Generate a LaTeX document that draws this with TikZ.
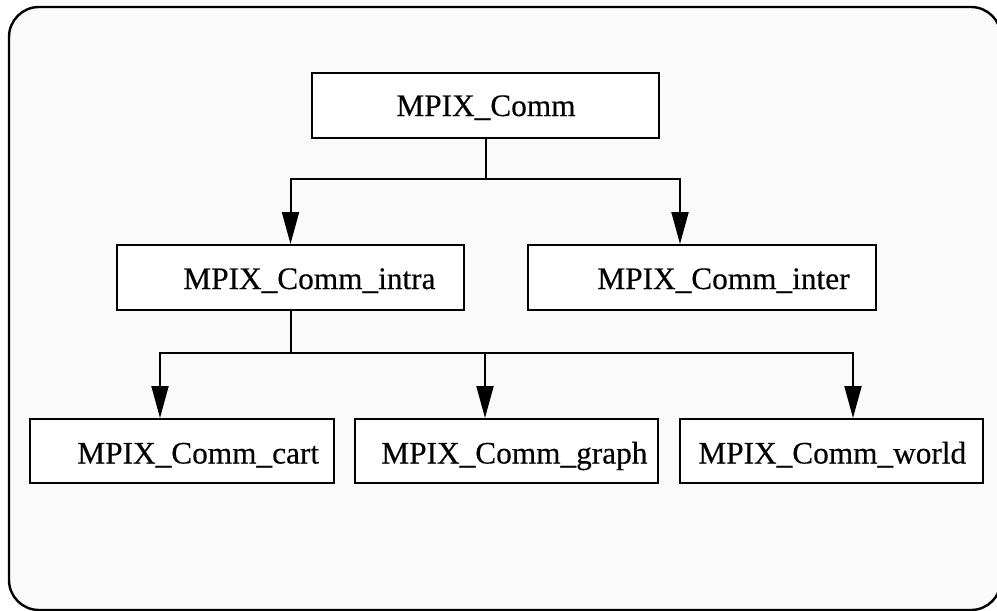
\documentclass[tikz,border=0pt]{standalone}
\usepackage{fontspec}
\setmainfont[FakeBold=0.35]{Liberation Serif}
\usetikzlibrary{arrows.meta,calc}
\begin{document}
\begin{tikzpicture}[x=0.5pt,y=-0.5pt,
  box/.style={draw=black,line width=1pt,fill=white,inner sep=0pt,minimum height=32.5pt},
  lbl/.style={inner sep=0pt,font=\fontsize{15.65pt}{18pt}\selectfont},
  wire/.style={line width=1pt},
  arrow/.style={wire,-{Triangle[length=16pt,width=8.5pt]}}]
\useasboundingbox (0,0) rectangle (997,611);
% outer panel
\draw[line width=1.2pt,fill=white!98!black,rounded corners=15pt] (9,7) rectangle (1001,610);

% class boxes
\node[box,minimum width=173.5pt] (top)   at (485.5,105.5) {};
\node[box,minimum width=173.5pt] (intra) at (290.5,277.5) {};
\node[box,minimum width=174pt]   (inter) at (702,277.5) {};
\node[box,minimum width=152pt,minimum height=32pt]   (cart)  at (182,451) {};
\node[box,minimum width=151.5pt,minimum height=32pt] (graph) at (506.5,451) {};
\node[box,minimum width=151.5pt,minimum height=32pt] (world) at (831.5,451) {};

% class names
\node[lbl,anchor=base]      (ttop)   at (486,116)   {MPIX\_Comm};
\node[lbl,anchor=base west] (tintra) at (183,289)   {MPIX\_Comm\_intra};
\node[lbl,anchor=base west] (tinter) at (597,289)   {MPIX\_Comm\_inter};
\node[lbl,anchor=base west] (tcart)  at (77,463.5)  {MPIX\_Comm\_cart};
\node[lbl,anchor=base west] (tgraph) at (381,463.5) {MPIX\_Comm\_graph};
\node[lbl,anchor=base west] (tworld) at (698,463.5) {MPIX\_Comm\_world};

% inheritance connectors
\coordinate (j1) at (485.5,179);
\draw[wire] (top.south) -- (j1);
\draw[arrow] (j1) -| (intra.north);
\draw[arrow] (j1) -| ($(inter.north)+(-22,0)$);

\coordinate (j2) at (290.5,353);
\draw[wire] (intra.south) -- (j2);
\draw[arrow] (j2) -| ($(cart.north)+(-22,0)$);
\draw[arrow] (j2) -| ($(graph.north)+(-21.5,0)$);
\draw[arrow] (j2) -| ($(world.north)+(21.5,0)$);
\end{tikzpicture}
\end{document}
